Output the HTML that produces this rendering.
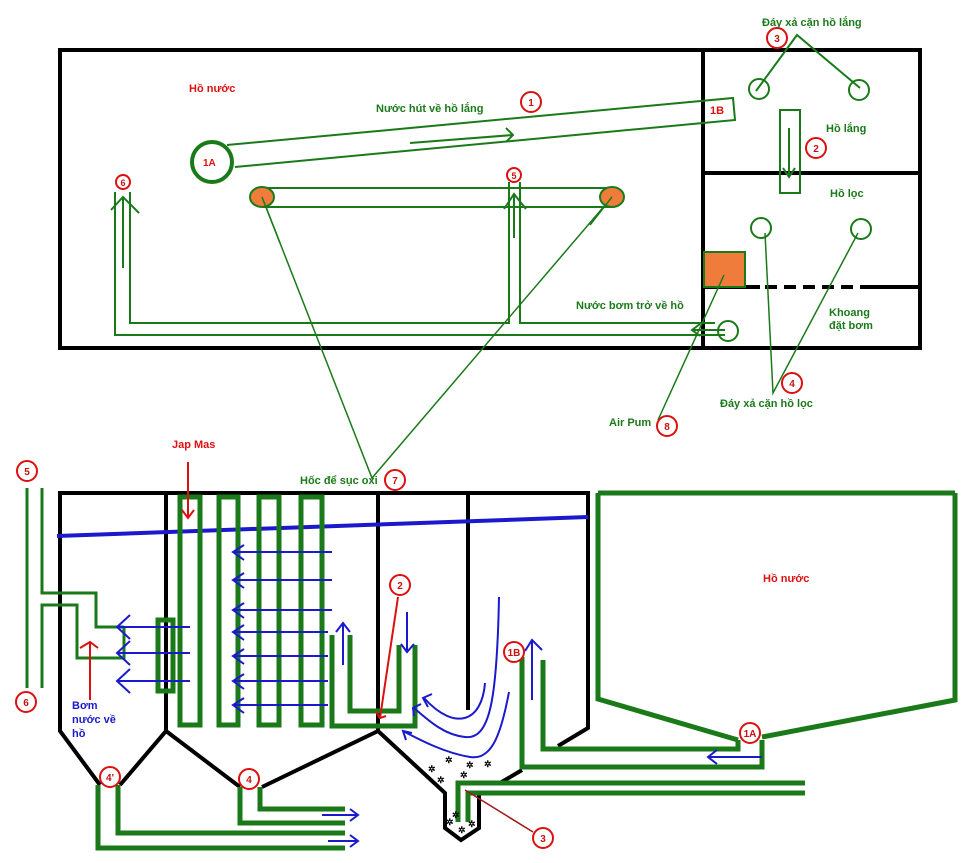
<!DOCTYPE html>
<html><head><meta charset="utf-8"><style>
html,body{margin:0;padding:0;background:#fff;}
svg{display:block;}
text{font-family:"Liberation Sans",sans-serif;font-weight:bold;}
.g{fill:#1a7a1a;font-size:11px;}
.r{fill:#e01010;font-size:11px;}
.b{fill:#1a1acc;font-size:11px;}
.n{fill:#cc1010;font-size:10px;text-anchor:middle;}
</style></head><body>
<svg width="962" height="863" viewBox="0 0 962 863" xmlns="http://www.w3.org/2000/svg">
<defs>
<g id="rc"><circle r="10" fill="#fff" stroke="#dd1010" stroke-width="2"/></g>
</defs>
<!-- TOP DIAGRAM -->
<rect x="60" y="50" width="860" height="298" fill="none" stroke="#000" stroke-width="4"/>
<line x1="703" y1="50" x2="703" y2="348" stroke="#000" stroke-width="4"/>
<line x1="703" y1="173" x2="920" y2="173" stroke="#000" stroke-width="4"/>
<line x1="703" y1="287" x2="760" y2="287" stroke="#000" stroke-width="4"/>
<line x1="765" y1="287" x2="863" y2="287" stroke="#000" stroke-width="4" stroke-dasharray="12,7"/>
<line x1="863" y1="287" x2="920" y2="287" stroke="#000" stroke-width="4"/>
<rect x="704" y="252" width="41" height="35" fill="#f07c3c" stroke="#1a7a1a" stroke-width="2"/>

<g stroke="#1a7a1a" fill="none" stroke-width="2">
<polyline points="227,145 733,98 735,120 235,167"/>
<polyline points="410,143 513,135"/>
<polyline points="506,128 513,135 506,142"/>
<circle cx="212" cy="162" r="20" stroke-width="4"/>
<line x1="262" y1="188" x2="612" y2="188"/>
<line x1="262" y1="207" x2="612" y2="207"/>
<polyline points="115,192 115,335 725,335"/>
<polyline points="130,192 130,323 509,323 509,182"/>
<polyline points="520,182 520,323 715,323"/>
<line x1="123" y1="268" x2="123" y2="197"/>
<polyline points="111,210 123,197 139,213"/>
<line x1="514" y1="238" x2="514" y2="194"/>
<polyline points="504,209 514,194 526,209"/>
<line x1="692" y1="330" x2="725" y2="330"/>
<polyline points="700,324 692,330 700,336"/>
<circle cx="728" cy="331" r="10"/>
<circle cx="759" cy="89" r="10"/>
<circle cx="859" cy="90" r="10"/>
<polyline points="756,91 797,35 860,88"/>
<rect x="780" y="110" width="20" height="83"/>
<line x1="789" y1="128" x2="789" y2="177"/>
<polyline points="783,168 789,177 795,168"/>
<circle cx="761" cy="228" r="10"/>
<circle cx="861" cy="229" r="10"/>
<polyline points="765,233 773,393 858,233" stroke-width="1.5"/>
<line x1="724" y1="275" x2="658" y2="420" stroke-width="1.5"/>
<polyline points="262,197 372,478 612,197" stroke-width="1.5"/>
</g>
<ellipse cx="262" cy="197" rx="12" ry="10" fill="#f07c3c" stroke="#1a7a1a" stroke-width="2"/>
<ellipse cx="612" cy="197" rx="12" ry="10" fill="#f07c3c" stroke="#1a7a1a" stroke-width="2"/>
<line x1="262" y1="197" x2="280" y2="243" stroke="#1a7a1a" stroke-width="1.5"/>
<line x1="612" y1="197" x2="590" y2="225" stroke="#1a7a1a" stroke-width="1.5"/>

<text x="189" y="92" class="r">Hồ nước</text>
<text x="376" y="112" class="g">Nước hút về hồ lắng</text>
<text x="203" y="166" class="r" style="font-size:10px">1A</text>
<text x="710" y="114" class="r">1B</text>
<text x="762" y="26" class="g">Đáy xả cặn hồ lắng</text>
<text x="826" y="132" class="g">Hồ lắng</text>
<text x="830" y="197" class="g">Hồ lọc</text>
<text x="576" y="309" class="g">Nước bơm trở về hồ</text>
<text x="829" y="316" class="g">Khoang</text>
<text x="829" y="329" class="g">đặt bơm</text>
<text x="720" y="407" class="g">Đáy xả cặn hồ lọc</text>
<text x="609" y="426" class="g">Air Pum</text>
<text x="300" y="484" class="g">Hốc để sục oxi</text>

<use href="#rc" x="531" y="102"/><text x="531" y="106" class="n">1</text>
<use href="#rc" x="777" y="38"/><text x="777" y="42" class="n">3</text>
<use href="#rc" x="816" y="148"/><text x="816" y="152" class="n">2</text>
<use href="#rc" x="792" y="383"/><text x="792" y="387" class="n">4</text>
<use href="#rc" x="667" y="426"/><text x="667" y="430" class="n">8</text>
<use href="#rc" x="395" y="480"/><text x="395" y="484" class="n">7</text>
<circle cx="123" cy="182" r="7" fill="#fff" stroke="#dd1010" stroke-width="2"/><text x="123" y="186" class="n" style="font-size:9px">6</text>
<circle cx="514" cy="175" r="7" fill="#fff" stroke="#dd1010" stroke-width="2"/><text x="514" y="179" class="n" style="font-size:9px">5</text>

<!-- BOTTOM DIAGRAM -->
<g stroke="#000" stroke-width="4" fill="none">
<line x1="58" y1="493" x2="590" y2="493"/>
<polyline points="60,493 60,731 100,785"/>
<polyline points="120,785 166,731 166,493"/>
<polyline points="166,731 240,787"/>
<polyline points="262,787 378,731 378,493"/>
<polyline points="378,731 445,793 445,828 461,840 479,828 479,793"/>
<line x1="500" y1="783" x2="522" y2="770"/>
<line x1="468" y1="493" x2="468" y2="710"/>
<polyline points="588,493 588,728 558,746"/>
</g>
<line x1="57" y1="536" x2="588" y2="517" stroke="#1a1acc" stroke-width="4"/>

<g stroke="#1a7a1a" fill="none" stroke-width="5">
<rect x="180" y="497" width="20" height="228"/>
<rect x="219" y="497" width="19" height="228"/>
<rect x="259" y="497" width="20" height="228"/>
<rect x="301" y="497" width="21" height="228"/>
<rect x="158" y="620" width="15" height="71"/>
<polyline points="332,635 332,726 415,726 415,645"/>
<polyline points="350,635 350,711 399,711 399,645"/>
<polyline points="522,657 522,767 762,767 762,740"/>
<polyline points="543,660 543,749 738,749 738,740"/>
<polyline points="458,822 458,783 805,783"/>
<polyline points="468,822 468,793 805,793"/>
<polyline points="98,785 98,848 345,848"/>
<polyline points="118,785 118,833 345,833"/>
<polyline points="240,787 240,823 345,823"/>
<polyline points="260,787 260,809 345,809"/>
<polyline points="598,493 955,493"/>
<polyline points="598,493 598,699 738,740"/>
<polyline points="762,737 955,700 955,493"/>
</g>
<g stroke="#1a7a1a" fill="none" stroke-width="3">
<line x1="27" y1="488" x2="27" y2="688"/>
<polyline points="42,488 42,593 96,593 96,627 124,627"/>
<polyline points="42,688 42,605 77,605 77,658 124,658 124,627"/>
</g>

<g stroke="#1a1acc" fill="none" stroke-width="2">
<line x1="117" y1="627" x2="190" y2="627"/><polyline points="130,615 117,627 130,639"/>
<line x1="117" y1="653" x2="190" y2="653"/><polyline points="130,641 117,653 130,665"/>
<line x1="117" y1="681" x2="190" y2="681"/><polyline points="130,669 117,681 130,693"/>
<line x1="233" y1="552" x2="332" y2="552"/><polyline points="244,545 233,552 244,560"/>
<line x1="233" y1="580" x2="332" y2="580"/><polyline points="244,573 233,580 244,588"/>
<line x1="233" y1="610" x2="332" y2="610"/><polyline points="244,603 233,610 244,618"/>
<line x1="233" y1="632" x2="328" y2="632"/><polyline points="244,625 233,632 244,640"/>
<line x1="233" y1="656" x2="328" y2="656"/><polyline points="244,649 233,656 244,664"/>
<line x1="233" y1="681" x2="328" y2="681"/><polyline points="244,674 233,681 244,689"/>
<line x1="233" y1="705" x2="328" y2="705"/><polyline points="244,698 233,705 244,713"/>
<line x1="343" y1="665" x2="343" y2="623"/><polyline points="336,632 343,623 350,632"/>
<line x1="407" y1="612" x2="407" y2="652"/><polyline points="401,644 407,652 414,644"/>
<path d="M485 683 C482 722 455 732 424 698"/><polyline points="432,694 423,698 428,707"/>
<path d="M499 597 C497 700 490 740 465 737 C445 735 430 722 414 708"/><polyline points="421,704 413,708 414,716"/>
<path d="M509 692 C500 740 490 760 470 757 C445 753 420 740 403 731"/><polyline points="406,740 403,731 412,733"/>
<line x1="532" y1="700" x2="532" y2="640"/><polyline points="525,651 532,640 542,650"/>
<line x1="762" y1="757" x2="708" y2="757"/><polyline points="717,750 708,757 717,764"/>
<line x1="322" y1="815" x2="358" y2="815"/><polyline points="350,809 358,815 350,821"/>
<line x1="328" y1="841" x2="358" y2="841"/><polyline points="350,835 358,841 350,847"/>
</g>

<g stroke="#dd1010" fill="none" stroke-width="2">
<line x1="188" y1="462" x2="188" y2="518"/><polyline points="182,510 188,518 194,510"/>
<line x1="90" y1="700" x2="90" y2="642"/><polyline points="80,648 90,642 98,648"/>
<line x1="398" y1="597" x2="380" y2="718"/><polyline points="376,712 380,718 386,716"/>
</g>
<line x1="465" y1="790" x2="533" y2="832" stroke="#a01818" stroke-width="1.5"/>

<g fill="#000" font-size="9" font-family="DejaVu Sans">
<text x="428" y="772">✲</text><text x="445" y="763">✲</text><text x="466" y="768">✲</text>
<text x="484" y="767">✲</text><text x="437" y="783">✲</text><text x="460" y="778">✲</text>
<text x="446" y="825">✲</text><text x="458" y="833">✲</text><text x="468" y="827">✲</text><text x="452" y="818">✲</text>
</g>

<text x="172" y="448" class="r">Jap Mas</text>
<text x="72" y="709" class="b">Bơm</text>
<text x="72" y="723" class="b">nước về</text>
<text x="72" y="737" class="b">hồ</text>
<text x="763" y="582" class="r">Hồ nước</text>

<use href="#rc" x="27" y="471"/><text x="27" y="475" class="n">5</text>
<use href="#rc" x="26" y="702"/><text x="26" y="706" class="n">6</text>
<use href="#rc" x="400" y="585"/><text x="400" y="589" class="n">2</text>
<use href="#rc" x="110" y="777"/><text x="110" y="781" class="n">4'</text>
<use href="#rc" x="249" y="779"/><text x="249" y="783" class="n">4</text>
<use href="#rc" x="514" y="652"/><text x="514" y="656" class="n">1B</text>
<use href="#rc" x="750" y="733"/><text x="750" y="737" class="n">1A</text>
<use href="#rc" x="543" y="838"/><text x="543" y="842" class="n">3</text>
</svg>
</body></html>
